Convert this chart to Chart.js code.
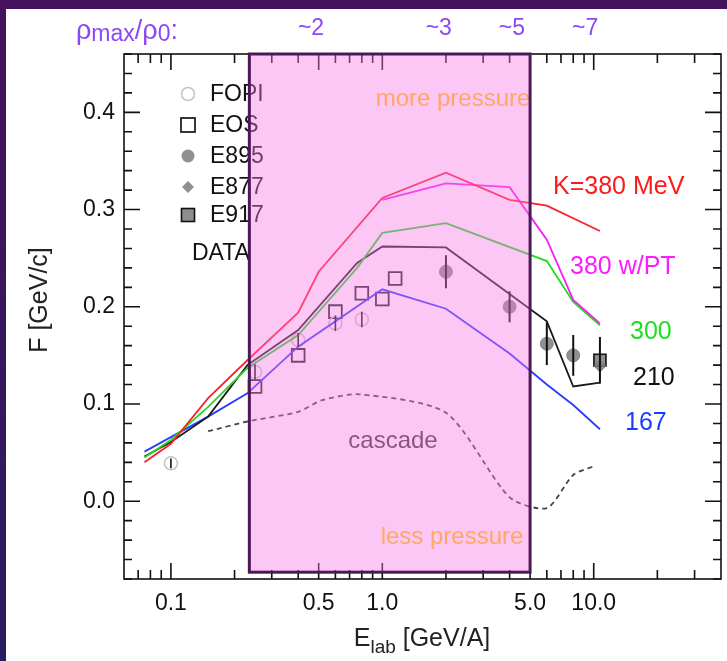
<!DOCTYPE html>
<html><head><meta charset="utf-8">
<script src="https://cdn.jsdelivr.net/npm/chart.js@4.4.1/dist/chart.umd.min.js"></script>
<style>
html,body{margin:0;padding:0;}
body{width:727px;height:661px;overflow:hidden;position:relative;background:linear-gradient(180deg,#45125c 0%,#38165c 50%,#2a1c5f 100%);}
#panel{position:absolute;left:6px;top:9px;right:0;bottom:0;background:#fff;}
#c{position:absolute;left:0;top:0;}
</style></head><body>
<div id="panel"></div>
<canvas id="c" width="727" height="661"></canvas>
<script>
// ---- model curves (E_lab [GeV/A], F [GeV/c]) ----
const k380E   = [0.075,0.1,0.15,0.23,0.4,0.5,1.0,2.0,4.0,6.0,10.7];
const k380F   = [0.040,0.059,0.106,0.145,0.194,0.236,0.312,0.338,0.310,0.304,0.278];
const k380ptE = [1.0,2.0,4.0,6.0,8.0,10.7];
const k380ptF = [0.310,0.327,0.323,0.269,0.207,0.183];
const k300E   = [0.075,0.1,0.15,0.23,0.4,0.76,1.0,2.0,6.0,8.0,10.7];
const k300F   = [0.045,0.063,0.097,0.137,0.171,0.240,0.276,0.286,0.247,0.205,0.181];
const k210E   = [0.075,0.1,0.15,0.23,0.4,0.76,1.0,2.0,6.0,8.0,10.7];
const k210F   = [0.046,0.061,0.087,0.140,0.176,0.245,0.262,0.261,0.185,0.118,0.122];
const k167E   = [0.075,0.15,0.23,0.4,1.0,2.0,4.0,6.0,8.0,10.7];
const k167F   = [0.051,0.087,0.111,0.159,0.218,0.198,0.152,0.120,0.099,0.074];
const cascE   = [0.15,0.23,0.4,0.52,0.78,2.0,4.0,6.0,8.0,10.0];
const cascF   = [0.072,0.082,0.092,0.104,0.110,0.091,0.004,-0.007,0.027,0.036];
// ---- data ----
const fopiE = [0.1,0.25,0.4,0.6,0.8];
const fopiF = [0.039,0.133,0.166,0.183,0.187];
const fopiErr = [0.005,0.008,0.007,0.008,0.008];
const eosE = [0.25,0.4,0.6,0.8,1.0,1.15];
const eosF = [0.118,0.150,0.195,0.214,0.208,0.229];
const e895E = [2.0,4.0,6.0,8.0];
const e895F = [0.236,0.200,0.162,0.150];
const e895Err = [0.017,0.016,0.022,0.021];
const e877E = [10.7];
const e877F = [0.139];
const e917E = [10.7];
const e917F = [0.145];
const e917Err = [0.024];
// ---- axes ----
const xTickValues = [0.1,0.5,1,5,10];
const xTickLabels = ['0.1','0.5','1.0','5.0','10.0'];
const yTickValues = [0,0.1,0.2,0.3,0.4];
const yTickLabels = ['0.0','0.1','0.2','0.3','0.4'];
const shadedRange = [0.235, 5.0];
const densityAt = [0.46, 1.85, 4.1, 9.1];
const densityText = ['~2','~3','~5','~7'];

const FONT = '"Liberation Sans", Arial, Helvetica, sans-serif';
const pts = (xs, ys) => xs.map((v,i)=>({x:v, y:ys[i]}));

const lineDs = (label, xs, ys, color, extra) => Object.assign({
  label, data: pts(xs,ys), borderColor: color, backgroundColor: color,
  borderWidth: 1.8, pointRadius: 0, tension: 0, fill: false
}, extra||{});
const markDs = (label, xs, ys, style, extra) => Object.assign({
  label, data: pts(xs,ys), showLine: false, pointStyle: style
}, extra);

const datasets = [
  lineDs('cascade', cascE, cascF, '#444', {borderDash:[5,4], borderWidth:1.8, tension:0.25}),
  lineDs('K=380 MeV', k380E, k380F, '#ff1f2e'),
  lineDs('380 w/PT', k380ptE, k380ptF, '#f51ef5'),
  lineDs('300', k300E, k300F, '#1fdc1f'),
  lineDs('210', k210E, k210F, '#1a1a1a'),
  lineDs('167', k167E, k167F, '#2a3cff'),
  markDs('FOPI', fopiE, fopiF, 'circle', {pointRadius:6.5, borderColor:'#c4c4c4', pointBackgroundColor:'rgba(255,255,255,0)', borderWidth:1.5, err: fopiErr, errWidth:1.6}),
  markDs('EOS', eosE, eosF, 'rect', {pointRadius:9, borderColor:'#222', pointBackgroundColor:'rgba(255,255,255,0)', borderWidth:1.8}),
  markDs('E895', e895E, e895F, 'circle', {pointRadius:6.5, borderColor:'rgba(125,125,125,0.85)', pointBackgroundColor:'rgba(125,125,125,0.85)', borderWidth:1, err: e895Err, errWidth:2}),
  markDs('E877', e877E, e877F, 'rectRot', {pointRadius:6, borderColor:'rgba(125,125,125,0.85)', pointBackgroundColor:'rgba(125,125,125,0.85)', borderWidth:1}),
  markDs('E917', e917E, e917F, 'rect', {pointRadius:8.5, borderColor:'#111', pointBackgroundColor:'rgba(130,130,130,0.9)', borderWidth:1.6, err: e917Err, errWidth:2})
];

const decor = {
  id: 'decor',
  afterDatasetsDraw(chart) {
    const {ctx, chartArea:a, scales:{x, y}} = chart;
    ctx.save();
    // error bars
    chart.data.datasets.forEach(ds => {
      if (!ds.err) return;
      ctx.strokeStyle = '#111'; ctx.lineWidth = ds.errWidth;
      ds.data.forEach((p,i) => {
        const px = x.getPixelForValue(p.x);
        ctx.beginPath();
        ctx.moveTo(px, y.getPixelForValue(p.y - ds.err[i]));
        ctx.lineTo(px, y.getPixelForValue(p.y + ds.err[i]));
        ctx.stroke();
      });
    });
    // cascade label
    ctx.fillStyle = '#3a3a3a'; ctx.font = '24px ' + FONT;
    ctx.textAlign = 'center'; ctx.textBaseline = 'middle';
    ctx.fillText('cascade', 393, 441);
    // legend
    ctx.textAlign = 'left'; ctx.font = '23px ' + FONT; ctx.fillStyle = '#111';
    const lx = 188, rows = [94,125,156,187,215];
    const names = ['FOPI','EOS','E895','E877','E917'];
    names.forEach((n,i) => ctx.fillText(n, 210, rows[i]+1));
    ctx.fillText('DATA', 192, 254);
    ctx.lineWidth = 1.5; ctx.strokeStyle = '#c4c4c4';
    ctx.beginPath(); ctx.arc(lx, rows[0], 6.5, 0, Math.PI*2); ctx.stroke();
    ctx.strokeStyle = '#222'; ctx.lineWidth = 1.8;
    ctx.strokeRect(lx-7, rows[1]-7, 14, 14);
    ctx.fillStyle = 'rgba(125,125,125,0.85)';
    ctx.beginPath(); ctx.arc(lx, rows[2], 6.5, 0, Math.PI*2); ctx.fill();
    ctx.beginPath(); ctx.moveTo(lx, rows[3]-6); ctx.lineTo(lx+6, rows[3]); ctx.lineTo(lx, rows[3]+6); ctx.lineTo(lx-6, rows[3]); ctx.closePath(); ctx.fill();
    ctx.fillStyle = 'rgba(130,130,130,0.9)'; ctx.fillRect(lx-6.5, rows[4]-6.5, 13, 13);
    ctx.strokeStyle = '#111'; ctx.lineWidth = 1.6; ctx.strokeRect(lx-6.5, rows[4]-6.5, 13, 13);
    // frame
    ctx.strokeStyle = '#111'; ctx.lineWidth = 1.6;
    ctx.strokeRect(a.left, a.top, a.right-a.left, a.bottom-a.top);
    ctx.beginPath();
    for (let k = -4; k <= 23; k++) {
      const v = k*0.02; const py = y.getPixelForValue(v);
      const len = (k % 5 === 0) ? 16 : 8;
      ctx.moveTo(a.left, py); ctx.lineTo(a.left+len, py);
      ctx.moveTo(a.right, py); ctx.lineTo(a.right-len, py);
    }
    [0.01,0.1,1,10].forEach(d => {
      for (let m = 1; m <= 9; m++) {
        const v = +(m*d).toPrecision(3);
        if (v < 0.0601 || v > 39.9) continue;
        const px = x.getPixelForValue(v);
        const len = xTickValues.includes(v) ? 16 : 9;
        ctx.moveTo(px, a.bottom); ctx.lineTo(px, a.bottom-len);
        ctx.moveTo(px, a.top); ctx.lineTo(px, a.top+len);
      }
    });
    ctx.stroke();
    // shaded overlay
    const x0 = x.getPixelForValue(shadedRange[0]), x1 = x.getPixelForValue(shadedRange[1]);
    const y0 = a.top, y1 = y.getPixelForValue(-0.073);
    ctx.fillStyle = 'rgba(248,119,231,0.42)';
    ctx.fillRect(x0, y0, x1-x0, y1-y0);
    ctx.fillStyle = '#ffa862'; ctx.font = '24px ' + FONT; ctx.textAlign = 'center';
    ctx.fillText('more pressure', 453, 99);
    ctx.fillText('less pressure', 452, 537);
    ctx.strokeStyle = '#4a1a56'; ctx.lineWidth = 3;
    ctx.strokeRect(x0, y0, x1-x0, y1-y0);
    // curve labels
    ctx.textAlign = 'left'; ctx.font = '25px ' + FONT;
    [['K=380 MeV',553,187,'#ff1a1a'],['380 w/PT',570,267,'#ff1aff'],['300',630,332,'#1ee01e'],
     ['210',633,378,'#111'],['167',625,423,'#1a3cff']].forEach(t => { ctx.fillStyle=t[3]; ctx.fillText(t[0],t[1],t[2]); });
    // density labels on top
    ctx.fillStyle = '#8b48f5'; ctx.font = '23px ' + FONT; ctx.textAlign = 'center';
    densityAt.forEach((v,i) => ctx.fillText(densityText[i], x.getPixelForValue(v), 29));
    ctx.textAlign = 'left'; ctx.textBaseline = 'alphabetic';
    let cx = 76;
    const piece = (s, size, dy) => { ctx.font = size+'px '+FONT; ctx.fillText(s, cx, 39+dy); cx += ctx.measureText(s).width; };
    piece('ρ',27,0); piece('max',23,2); piece('/',27,0); piece('ρ',27,0); piece('0',23,2); piece(':',27,0);
    // axis titles
    ctx.fillStyle = '#222';
    ctx.save(); ctx.translate(40, 300); ctx.rotate(-Math.PI/2);
    ctx.font = '25px ' + FONT; ctx.textAlign = 'center'; ctx.textBaseline = 'middle';
    ctx.fillText('F [GeV/c]', 0, 0); ctx.restore();
    ctx.font = '25px ' + FONT; const wE = ctx.measureText('E').width, wR = ctx.measureText(' [GeV/A]').width;
    ctx.font = '19px ' + FONT; const wL = ctx.measureText('lab').width;
    let tx = 422 - (wE+wL+wR)/2;
    ctx.font = '25px ' + FONT; ctx.fillText('E', tx, 646); tx += wE;
    ctx.font = '19px ' + FONT; ctx.fillText('lab', tx, 653); tx += wL;
    ctx.font = '25px ' + FONT; ctx.fillText(' [GeV/A]', tx, 646);
    ctx.restore();
  }
};

new Chart(document.getElementById('c'), {
  type: 'line',
  data: { datasets },
  options: {
    responsive: false, animation: false,
    layout: { autoPadding: false, padding: { top: 54, right: 6, left: 0, bottom: 0 } },
    plugins: { legend: { display: false }, tooltip: { enabled: false } },
    scales: {
      x: {
        type: 'logarithmic', min: 0.06, max: 40,
        grid: { display: false, drawTicks: false }, border: { display: false },
        afterBuildTicks: s => { s.ticks = xTickValues.map(v => ({ value: v })); },
        afterFit: s => { s.height = 82; },
        ticks: { autoSkip: false, maxRotation: 0, padding: 11, color: '#111',
          font: { size: 23, family: FONT },
          callback: v => { const i = xTickValues.indexOf(v); return i < 0 ? '' : xTickLabels[i]; } }
      },
      y: {
        type: 'linear', min: -0.08, max: 0.46,
        grid: { display: false, drawTicks: false }, border: { display: false },
        afterBuildTicks: s => { s.ticks = yTickValues.map(v => ({ value: v })); },
        afterFit: s => { s.width = 124; },
        ticks: { padding: 9, color: '#111', font: { size: 23, family: FONT },
          callback: v => { const i = yTickValues.findIndex(t => Math.abs(t - v) < 1e-9); return i < 0 ? '' : yTickLabels[i]; } }
      }
    }
  },
  plugins: [decor]
});
</script>
</body></html>
